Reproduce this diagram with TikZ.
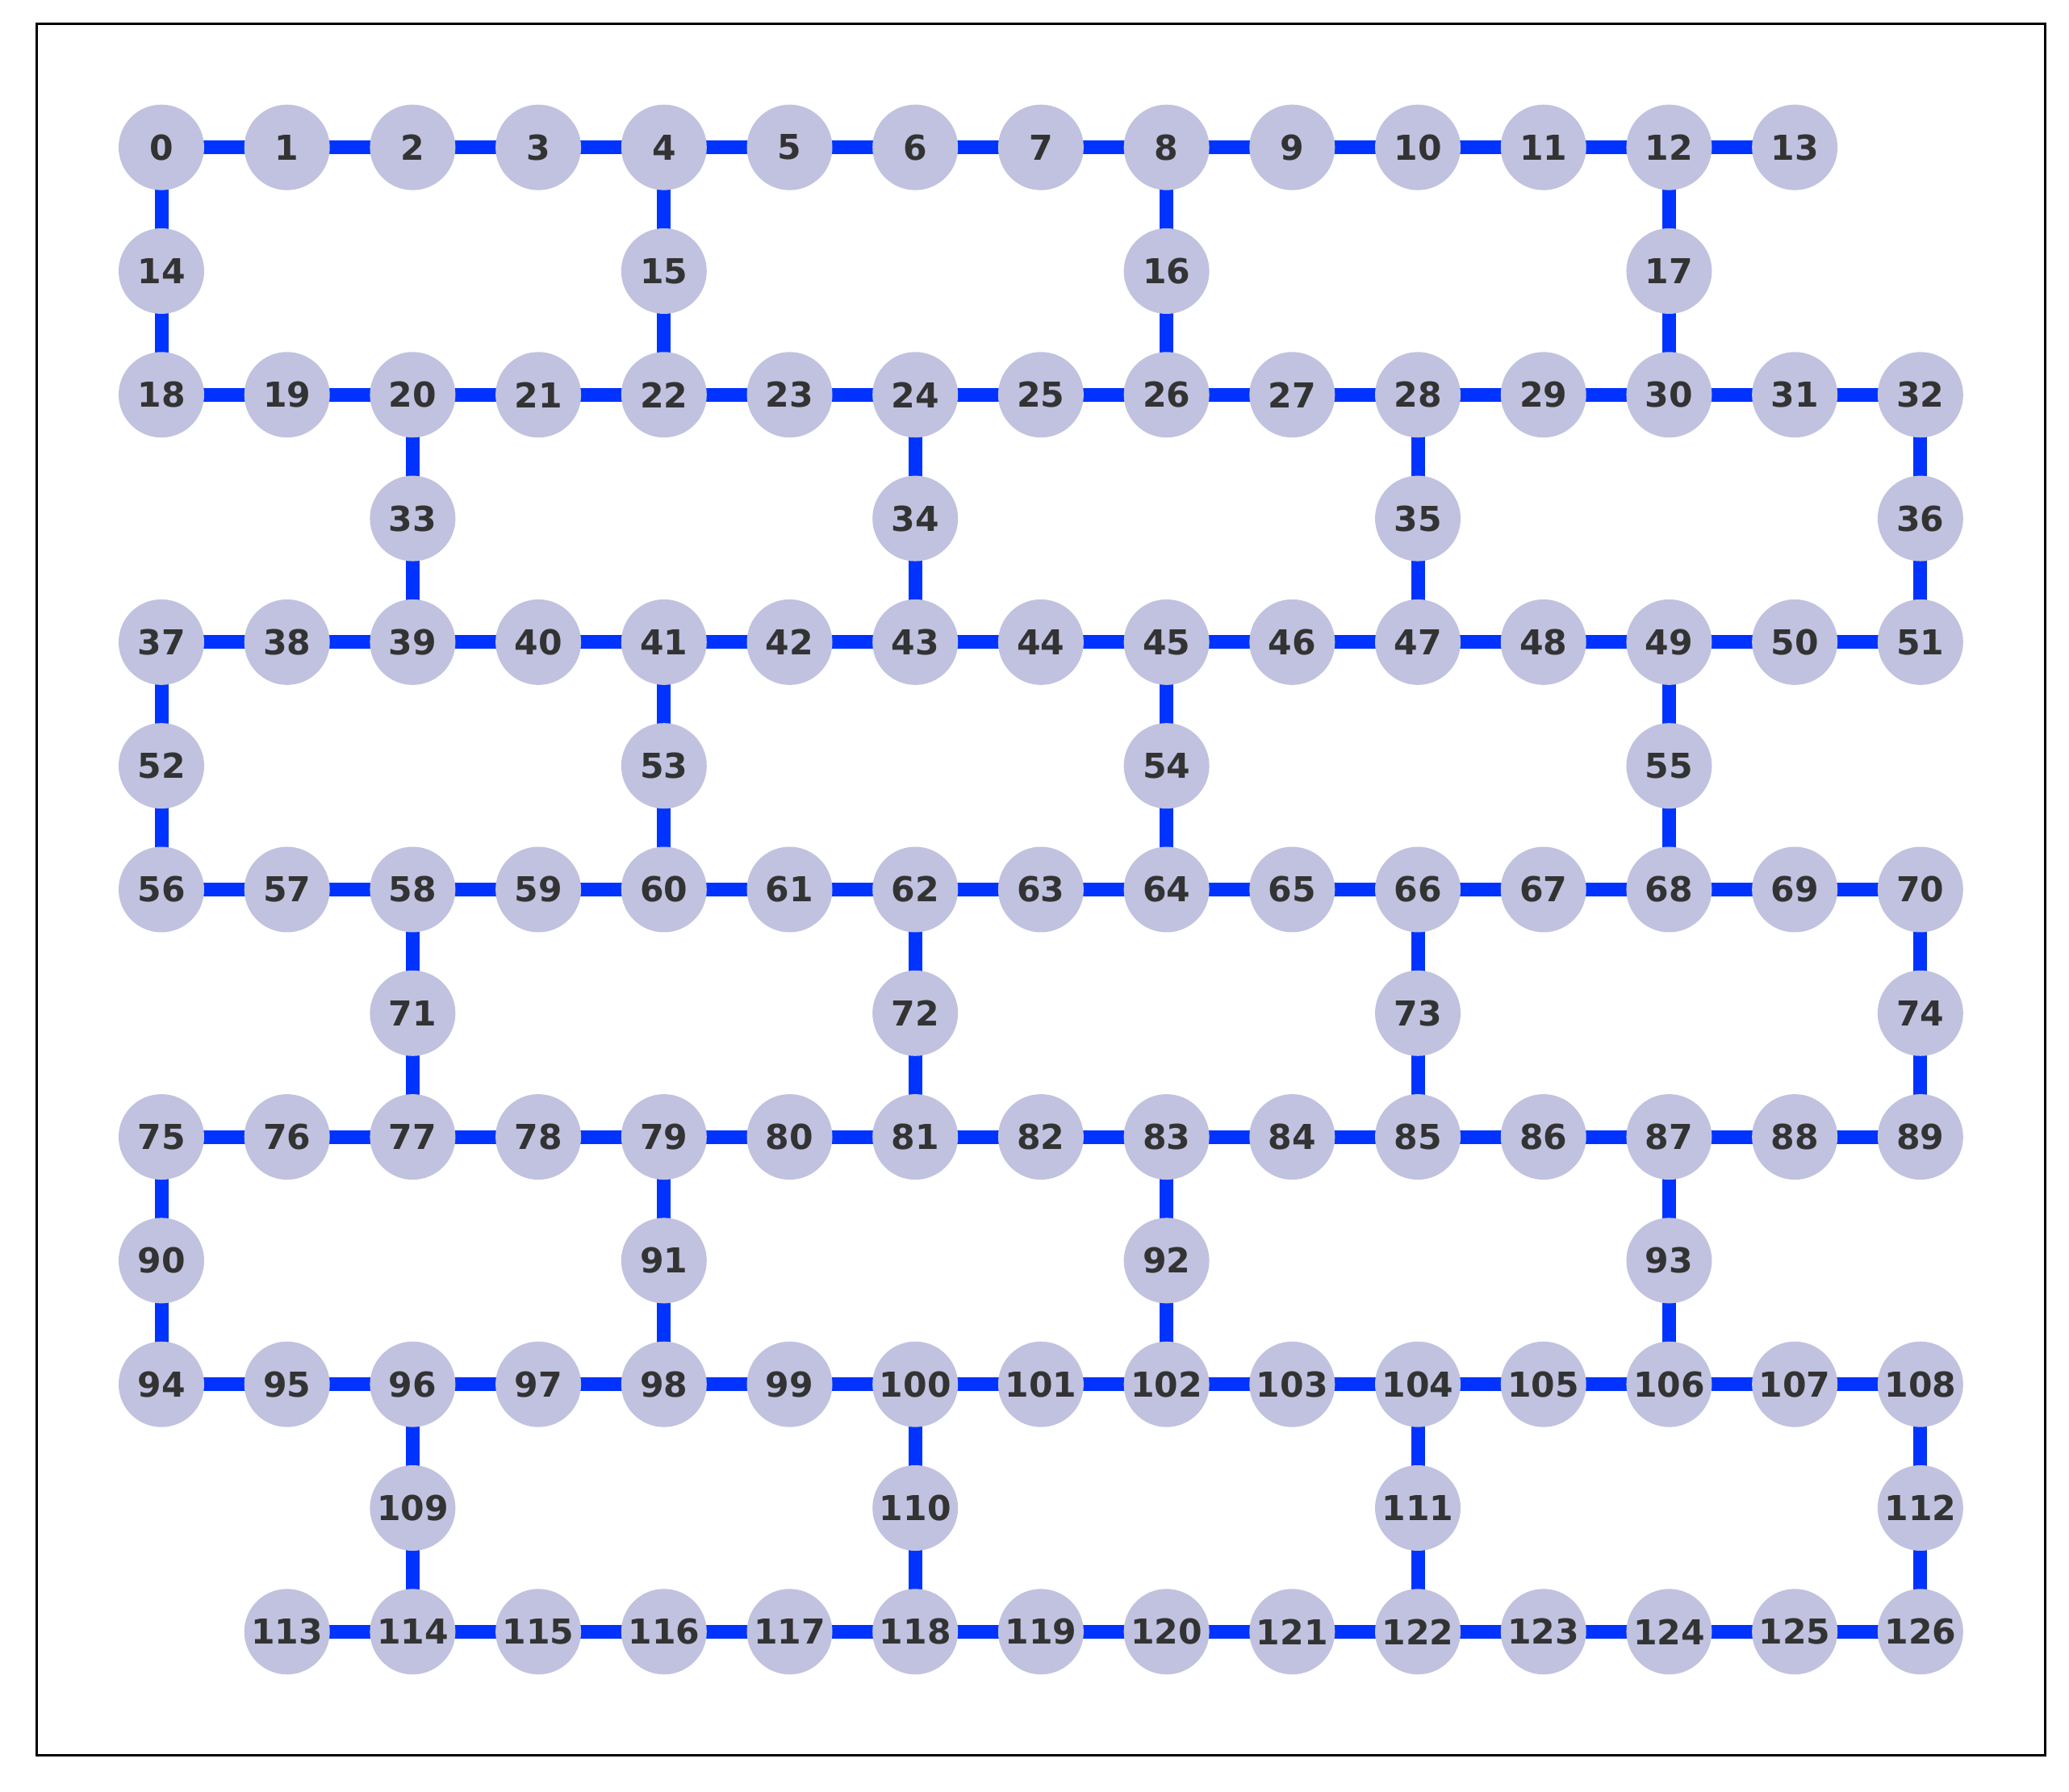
\documentclass[tikz,border=0pt]{standalone}
\usepackage{fontspec}
\setmainfont{DejaVu Sans}
\usetikzlibrary{backgrounds}
\definecolor{qubitfill}{RGB}{192,194,224}
\definecolor{linkblue}{RGB}{0,51,255}
\definecolor{labelgray}{RGB}{51,51,51}

% long rows: row/first qubit/last qubit/first column
\def\longrows{0/0/13/0,2/18/32/0,4/37/51/0,6/56/70/0,8/75/89/0,10/94/108/0,12/113/126/1}
% bridge qubits: qubit/column/row/above/below
\def\bridges{14/0/1/0/18,15/4/1/4/22,16/8/1/8/26,17/12/1/12/30,
  33/2/3/20/39,34/6/3/24/43,35/10/3/28/47,36/14/3/32/51,
  52/0/5/37/56,53/4/5/41/60,54/8/5/45/64,55/12/5/49/68,
  71/2/7/58/77,72/6/7/62/81,73/10/7/66/85,74/14/7/70/89,
  90/0/9/75/94,91/4/9/79/98,92/8/9/83/102,93/12/9/87/106,
  109/2/11/96/114,110/6/11/100/118,111/10/11/104/122,112/14/11/108/126}

\begin{document}
\begin{tikzpicture}[
  qubit/.style={circle,fill=qubitfill,minimum size=1.06cm,inner sep=0pt,
    text=labelgray,font=\fontsize{12.1}{14}\selectfont\bfseries},
  link/.style={draw=linkblue,line width=0.17cm}]
\useasboundingbox (0,0) rectangle (25.64,22.20);
\draw[line width=0.03cm] (0.45,0.45) rectangle (25.34,21.90);

\foreach \r/\first/\last/\cz in \longrows {
  \foreach \n in {\first,...,\last} {
    \pgfmathsetmacro{\xx}{2.00+1.557*(\n-\first+\cz)}
    \node[qubit] (q\n) at (\xx,{20.373-1.533*\r}) {\n};
  }
}
\foreach \n/\c/\r/\a/\b in \bridges
  \node[qubit] (q\n) at ({2.00+1.557*\c},{20.373-1.533*\r}) {\n};

\begin{scope}[on background layer]
\foreach \r/\first/\last/\cz in \longrows {
  \pgfmathtruncatemacro{\nx}{\first+1}
  \foreach \n [evaluate=\n as \m using int(\n-1)] in {\nx,...,\last}
    \draw[link] (q\m.center) -- (q\n.center);
}
\foreach \n/\c/\r/\a/\b in \bridges
  \draw[link] (q\a.center) -- (q\n.center) -- (q\b.center);
\end{scope}
\end{tikzpicture}
\end{document}
